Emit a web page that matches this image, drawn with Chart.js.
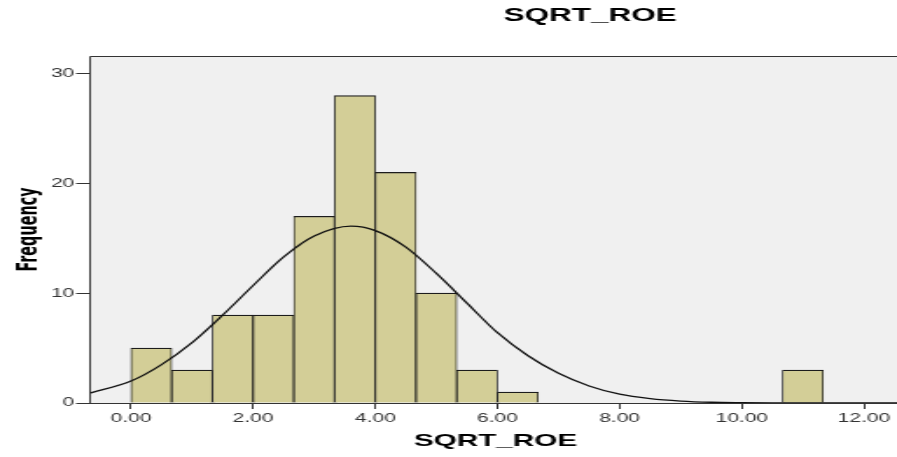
<!DOCTYPE html>
<html>
<head>
<meta charset="utf-8">
<title>SQRT_ROE</title>
<script src="https://cdn.jsdelivr.net/npm/chart.js@4.4.0/dist/chart.umd.min.js"></script>
<style>
  html, body { margin: 0; padding: 0; background: #fff; overflow: hidden; }
  #wrap { width: 897px; height: 457px; overflow: hidden; }
  /* the reference is horizontally stretched, so draw narrow and stretch it */
  #chart { display: block; transform: scaleX(1.7485); transform-origin: 0 0; }
</style>
</head>
<body>
<div id="wrap"><canvas id="chart" width="543" height="457"></canvas></div>
<script>
// Histogram (bin centres, bins are 2/3 wide)
const binCenters = [0.333, 1.0, 1.667, 2.333, 3.0, 3.667, 4.333, 5.0, 5.667, 6.333, 7.0, 7.667, 8.333, 9.0, 9.667, 10.333, 11.0];
const frequencies = [5, 3, 8, 8, 17, 28, 21, 10, 3, 1, 0, 0, 0, 0, 0, 0, 3];

// Normal curve
const curveX = [-0.67, 0, 0.5, 1, 1.5, 2, 2.5, 3, 3.6, 4, 4.5, 5, 5.5, 6, 6.5, 7, 7.5, 8, 8.5, 9, 9.5, 10, 10.5, 11, 12, 13.4];
const curveY = [0.9, 2.0, 3.5, 5.5, 8.0, 10.7, 13.3, 15.2, 16.1, 15.7, 14.2, 11.8, 9.1, 6.4, 4.3, 2.7, 1.55, 0.8, 0.4, 0.18, 0.07, 0.03, 0.01, 0, 0, 0];

// Axis ticks
const xTicks = [0, 2, 4, 6, 8, 10, 12];
const xTickLabels = ['0.00', '2.00', '4.00', '6.00', '8.00', '10.00', '12.00'];
const yTicks = [0, 10, 20, 30];
const yTickLabels = ['0', '10', '20', '30'];

const chartTitle = 'SQRT_ROE';
const xTitle = 'SQRT_ROE';
const yTitle = 'Frequency';

const sans = '"Liberation Sans", Arial, sans-serif';

// grey plot background, frame and the two centred titles
const plotFrame = {
  id: 'plotFrame',
  beforeDraw(chart) {
    const { ctx, chartArea: a } = chart;
    ctx.save();
    ctx.fillStyle = '#f0f0f0';
    ctx.fillRect(a.left, a.top, a.right - a.left, a.bottom - a.top);
    ctx.restore();
  },
  afterDatasetsDraw(chart) {
    const { ctx, chartArea: a } = chart;
    const l = Math.floor(a.left) + 0.5;
    const t = Math.round(a.top) + 0.5;
    const b = Math.round(a.bottom) + 0.5;
    ctx.save();
    ctx.strokeStyle = '#333';
    ctx.lineWidth = 1;
    ctx.beginPath();
    ctx.moveTo(a.right + 5, t);
    ctx.lineTo(l, t);
    ctx.lineTo(l, b);
    ctx.lineTo(a.right + 5, b);
    ctx.stroke();
    ctx.restore();
  },
  afterDraw(chart) {
    const ctx = chart.ctx;
    ctx.save();
    ctx.fillStyle = '#000';
    ctx.textAlign = 'center';
    ctx.textBaseline = 'middle';
    ctx.font = 'bold 18px ' + sans;
    ctx.fillText(chartTitle, 337.4, 16.5);
    ctx.font = 'bold 17px ' + sans;
    ctx.fillText(xTitle, 283.4, 441);
    ctx.restore();
  }
};

new Chart(document.getElementById('chart'), {
  type: 'bar',
  data: {
    datasets: [
      {
        type: 'line',
        data: curveX.map((x, i) => ({ x: x, y: curveY[i] })),
        borderColor: '#111',
        borderWidth: 1.3,
        pointRadius: 0,
        fill: false,
        cubicInterpolationMode: 'monotone',
        order: 0
      },
      {
        type: 'bar',
        data: binCenters.map((x, i) => ({ x: x, y: frequencies[i] })),
        backgroundColor: '#d3ce97',
        borderColor: '#1c1c1c',
        borderWidth: { top: 1.2, left: 0.85, right: 0.85, bottom: 0 },
        borderSkipped: false,
        barPercentage: 1,
        categoryPercentage: 1,
        order: 1
      }
    ]
  },
  options: {
    responsive: false,
    animation: false,
    devicePixelRatio: 1,
    layout: { padding: { top: 56, left: 0, right: 0, bottom: 0 } },
    plugins: {
      legend: { display: false },
      tooltip: { enabled: false },
      title: { display: false }
    },
    scales: {
      x: {
        type: 'linear',
        min: -0.67,
        max: 13.4,
        offset: false,
        afterBuildTicks: s => { s.ticks = xTicks.map(v => ({ value: v })); },
        afterFit: s => { s.height = 54; },
        ticks: {
          callback: (v, i) => xTickLabels[i],
          color: '#333',
          font: { family: sans, size: 12 },
          padding: 2,
          maxRotation: 0,
          autoSkip: false
        },
        grid: { drawOnChartArea: false, drawTicks: true, tickLength: 6, tickColor: '#333', offset: false },
        border: { display: false }
      },
      y: {
        min: 0,
        max: 31.6,
        afterBuildTicks: s => { s.ticks = yTicks.map(v => ({ value: v })); },
        afterFit: s => { s.width = 51.5; },
        ticks: {
          callback: (v, i) => yTickLabels[i],
          color: '#333',
          font: { family: sans, size: 12 },
          padding: 1
        },
        grid: { drawOnChartArea: false, drawTicks: true, tickLength: 8, tickColor: '#333' },
        border: { display: false },
        title: {
          display: true,
          text: yTitle,
          color: '#000',
          font: { family: '"Liberation Sans Narrow", "DejaVu Sans Condensed", Arial, sans-serif', size: 16, weight: 'bold' },
          padding: { top: 7.5, bottom: 0 }
        }
      }
    }
  },
  plugins: [plotFrame]
});
</script>
</body>
</html>
